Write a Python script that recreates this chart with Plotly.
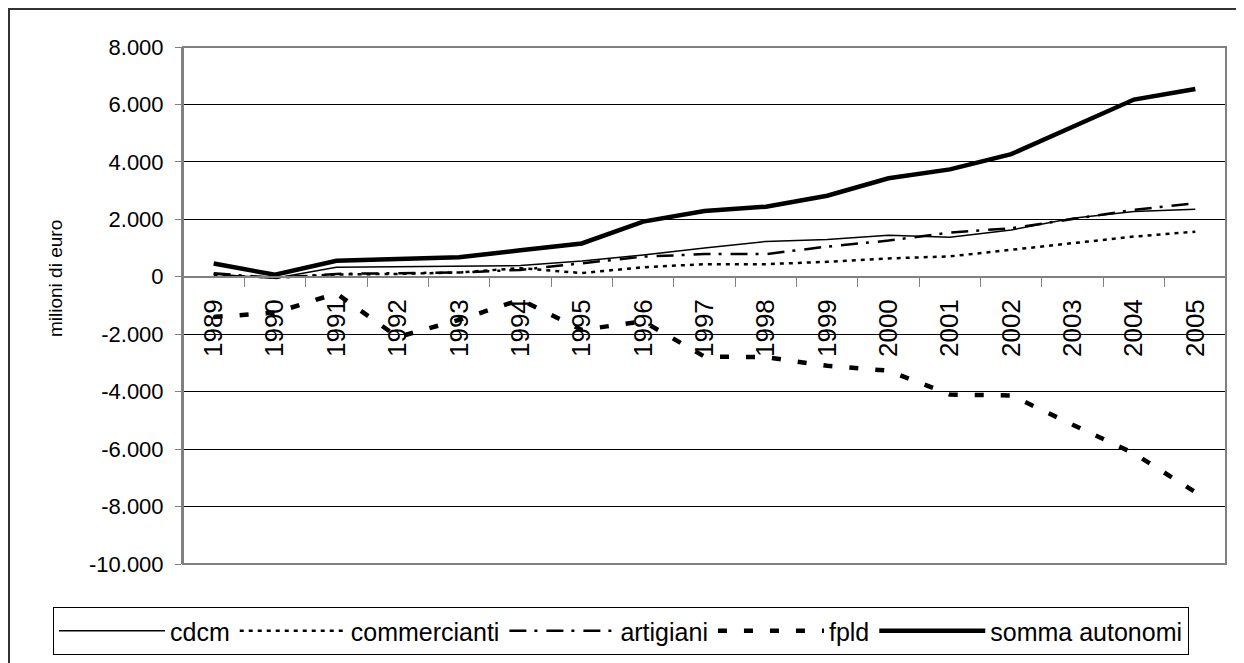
import plotly.graph_objects as go

years = [str(y) for y in range(1989, 2006)]
cdcm = [90, -50, 330, 350, 390, 390, 550, 760, 1000, 1230, 1300, 1450, 1380, 1630, 2040, 2270, 2350]
commercianti = [50, -30, 80, 100, 150, 300, 130, 330, 440, 440, 520, 640, 710, 940, 1170, 1400, 1570]
artigiani = [120, -40, 100, 120, 150, 240, 470, 700, 790, 790, 1050, 1260, 1540, 1690, 2010, 2330, 2560]
fpld = [-1400, -1250, -580, -2100, -1500, -800, -1850, -1550, -2780, -2800, -3100, -3270, -4100, -4130, -5150, -6150, -7500]
somma = [460, 70, 560, 620, 680, 920, 1160, 1920, 2290, 2440, 2820, 3430, 3740, 4270, 5230, 6170, 6540]

y_ticks = [8000, 6000, 4000, 2000, 0, -2000, -4000, -6000, -8000, -10000]
y_labels = ["8.000", "6.000", "4.000", "2.000", "0", "-2.000", "-4.000", "-6.000", "-8.000", "-10.000"]

FONT = "Liberation Sans, Arial, sans-serif"

series = [
    ("cdcm", cdcm, 1.5, "solid"),
    ("commercianti", commercianti, 2.5, "4px,5px"),
    ("artigiani", artigiani, 2.5, "17px,8px,3px,9px"),
    ("fpld", fpld, 4.5, "9px,17px"),
    ("somma autonomi", somma, 4.5, "solid"),
]

fig = go.Figure()
for name, vals, w, dash in series:
    fig.add_trace(go.Scatter(x=years, y=vals, name=name, mode="lines",
                             line=dict(color="black", width=w, dash=dash)))

# page body has an 8px margin: paper coordinates = screen - 8
L, T, PW, PH = 175, 39, 1043, 517
W, H = 1236, 655

fig.update_layout(
    width=W, height=H,
    margin=dict(l=L, r=W - L - PW, t=T, b=H - T - PH, autoexpand=False),
    paper_bgcolor="white", plot_bgcolor="white",
    font=dict(family=FONT, color="black"),
    showlegend=True,
    legend=dict(orientation="h", x=(45 - L) / PW, xanchor="left",
                y=(T + PH - 599) / PH, yanchor="top",
                font=dict(size=25, family=FONT), bordercolor="black", borderwidth=1,
                itemwidth=106, traceorder="normal"),
    xaxis=dict(type="category", anchor="free", position=10/18, automargin=False,
               range=[-0.5, len(years) - 0.5],
               showline=True, linecolor="#808080", linewidth=2,
               ticks="outside", ticklen=9, tickcolor="#808080", tickwidth=1,
               tickson="boundaries", tickangle=-90, ticklabelstandoff=11,
               tickfont=dict(size=26, family=FONT), showgrid=False, zeroline=False),
    yaxis=dict(range=[-10000, 8000], tickvals=y_ticks, ticktext=y_labels, automargin=False,
               showline=True, linecolor="#808080", linewidth=2,
               ticks="outside", ticklen=6, tickcolor="#808080", ticklabelstandoff=7,
               tickfont=dict(size=22, family=FONT),
               showgrid=True, gridcolor="black", gridwidth=1,
               zeroline=True, zerolinecolor="#808080", zerolinewidth=2),
    shapes=[
        dict(type="rect", xref="paper", yref="paper", x0=0, x1=1, y0=0, y1=1,
             line=dict(color="#808080", width=2), layer="above"),
        dict(type="rect", xref="paper", yref="paper", x0=(1 - L) / PW, x1=1.2,
             y0=-0.5, y1=(T + PH - 1) / PH,
             line=dict(color="#333333", width=2)),
    ],
    annotations=[
        dict(text="milioni di euro", xref="paper", yref="paper",
             x=(47 - L) / PW, y=(T + PH - 271) / PH, textangle=-90,
             showarrow=False, font=dict(size=19, family=FONT), xanchor="center", yanchor="middle"),
    ],
)

fig.write_html("out.html")
